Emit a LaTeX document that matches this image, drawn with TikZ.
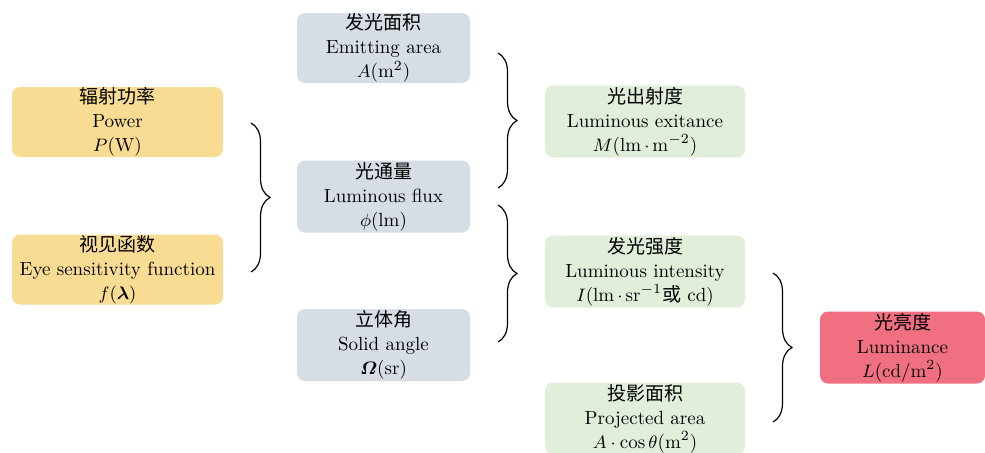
\documentclass[tikz,border=0pt]{standalone}
\usepackage{amsmath}
\usepackage{fontspec}
\usepackage{bm}
\newfontfamily\cjk{Noto Sans CJK SC}
\usetikzlibrary{decorations.pathreplacing}
\definecolor{sourceYellow}{HTML}{F8DC94}
\definecolor{fluxGray}{HTML}{D6DDE5}
\definecolor{derivGreen}{HTML}{E0EEDA}
\definecolor{lumRed}{HTML}{F06F80}

\begin{document}
\begin{tikzpicture}[x=0.5pt, y=-0.5pt,
    qty/.style={rounded corners=4pt, align=center, inner sep=0pt,
        minimum height=36pt, font=\fontsize{9.5}{12}\selectfont},
    curly/.style={decorate, decoration={brace, amplitude=9.5pt}, line width=0.6pt}]

    \useasboundingbox (0,0) rectangle (985,452);

    % sources
    \node[qty, fill=sourceYellow, minimum width=105.5pt, minimum height=35pt] (power) at (117.5,122)
        {{\cjk 辐射功率}\\Power\\$P$(W)};
    \node[qty, fill=sourceYellow, minimum width=105.5pt, minimum height=35pt] (eye) at (117.5,269.5)
        {{\cjk 视见函数}\\Eye sensitivity function\\$f(\bm{\lambda})$};

    % flux, area and angle
    \node[qty, fill=fluxGray, minimum width=86.5pt, minimum height=35pt] (emit) at (383.5,48)
        {{\cjk 发光面积}\\Emitting area\\$A$(m$^2$)};
    \node[qty, fill=fluxGray, minimum width=86.5pt] (flux) at (383.5,196.5)
        {{\cjk 光通量}\\Luminous flux\\$\phi$(lm)};
    \node[qty, fill=fluxGray, minimum width=86.5pt] (solid) at (383.5,345)
        {{\cjk 立体角}\\Solid angle\\$\bm{\varOmega}$(sr)};

    % derived quantities
    \node[qty, fill=derivGreen, minimum width=100pt] (exit) at (645,121.5)
        {{\cjk 光出射度}\\Luminous exitance\\$M$(lm$\,\cdot\,$m$^{-2}$)};
    \node[qty, fill=derivGreen, minimum width=100pt] (intens) at (645,271.5)
        {{\cjk 发光强度}\\Luminous intensity\\$I$(lm$\,\cdot\,$sr$^{-1}${\cjk 或} cd)};
    \node[qty, fill=derivGreen, minimum width=100pt] (proj) at (645,418.5)
        {{\cjk 投影面积}\\Projected area\\$A\cdot\cos\theta$(m$^2$)};

    % result
    \node[qty, fill=lumRed, minimum width=82.5pt] (lum) at (902.5,347.5)
        {{\cjk 光亮度}\\Luminance\\$L$(cd/m$^2$)};

    % brace ends
    \coordinate (b1a) at (251,123);
    \coordinate (b1b) at (251,272);
    \coordinate (b2a) at (498,53);
    \coordinate (b2b) at (498,188);
    \coordinate (b3a) at (498,205);
    \coordinate (b3b) at (498,342);
    \coordinate (b4a) at (773,273);
    \coordinate (b4b) at (773,422);

    % braces
    \draw[curly] (b1a) -- (b1b);
    \draw[curly] (b2a) -- (b2b);
    \draw[curly] (b3a) -- (b3b);
    \draw[curly] (b4a) -- (b4b);

\end{tikzpicture}
\end{document}
